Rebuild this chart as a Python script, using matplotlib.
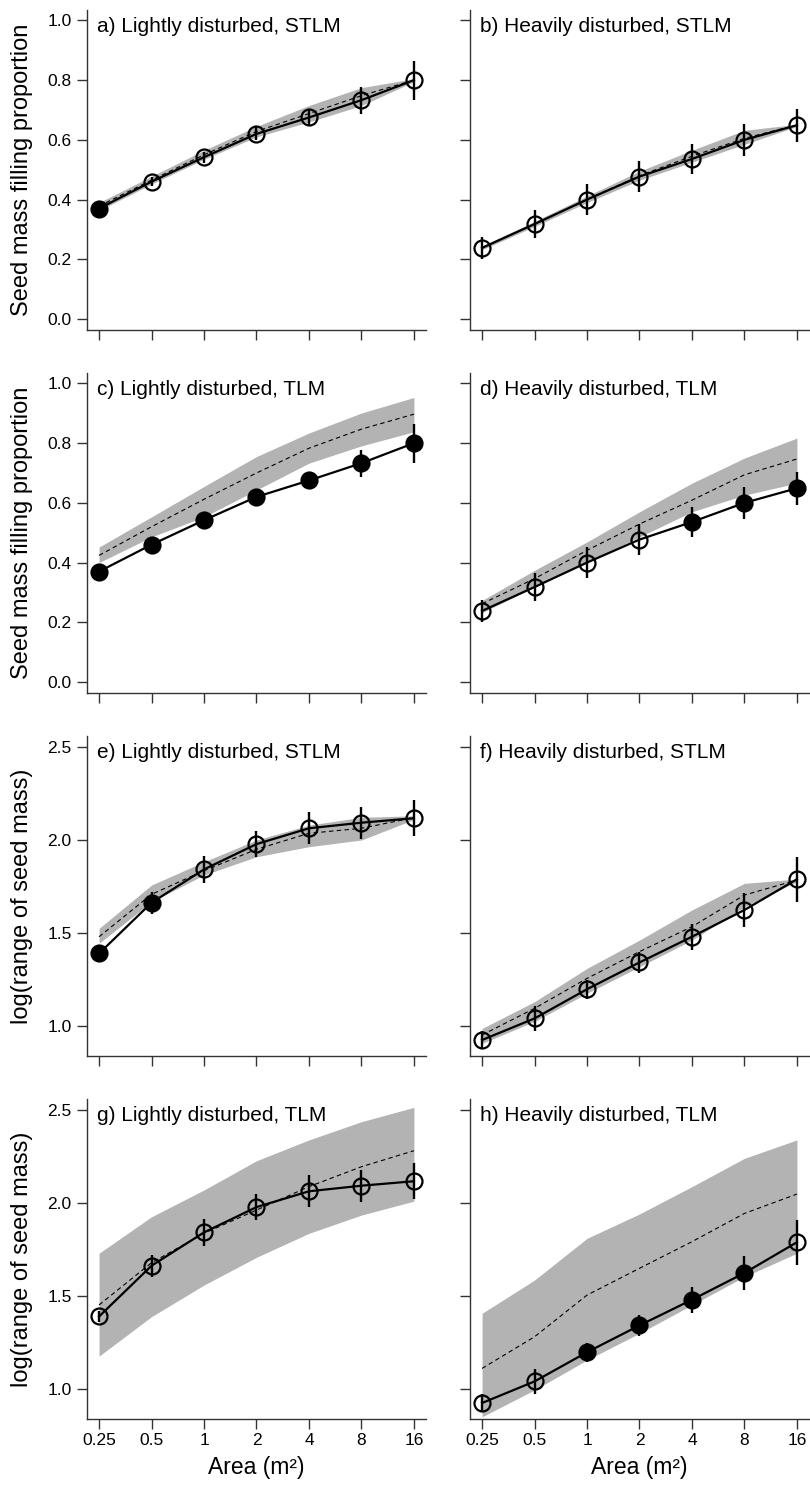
import matplotlib

matplotlib.use("Agg")
import matplotlib.pyplot as plt
from matplotlib.ticker import FixedLocator, NullFormatter, FixedFormatter

AREA = [0.25, 0.5, 1, 2, 4, 8, 16]
AREA_LABELS = ["0.25", "0.5", "1", "2", "4", "8", "16"]

# observed means and error bars
fill_light = [0.370, 0.460, 0.542, 0.620, 0.675, 0.733, 0.800]
fill_light_err = [0.010, 0.015, 0.018, 0.022, 0.030, 0.045, 0.065]
fill_heavy = [0.238, 0.318, 0.400, 0.477, 0.536, 0.600, 0.649]
fill_heavy_err = [0.036, 0.046, 0.052, 0.053, 0.051, 0.054, 0.055]
range_light = [1.390, 1.663, 1.842, 1.978, 2.063, 2.093, 2.117]
range_light_err = [0.030, 0.060, 0.072, 0.072, 0.085, 0.087, 0.098]
range_heavy = [0.925, 1.041, 1.198, 1.342, 1.480, 1.624, 1.789]
range_heavy_err = [0.050, 0.066, 0.052, 0.058, 0.070, 0.093, 0.120]

# null model envelopes (lower, upper) and mean
null_a_lo = [0.363, 0.452, 0.535, 0.610, 0.660, 0.715, 0.795]
null_a_hi = [0.390, 0.478, 0.565, 0.645, 0.715, 0.775, 0.805]
null_a_mid = [0.378, 0.465, 0.550, 0.628, 0.688, 0.748, 0.800]

null_b_lo = [0.232, 0.310, 0.390, 0.465, 0.525, 0.585, 0.645]
null_b_hi = [0.245, 0.327, 0.412, 0.495, 0.565, 0.632, 0.652]
null_b_mid = [0.238, 0.318, 0.400, 0.480, 0.545, 0.605, 0.650]

null_c_lo = [0.400, 0.486, 0.553, 0.643, 0.733, 0.791, 0.838]
null_c_hi = [0.452, 0.553, 0.655, 0.755, 0.834, 0.901, 0.953]
null_c_mid = [0.424, 0.520, 0.612, 0.700, 0.783, 0.847, 0.897]

null_d_lo = [0.232, 0.318, 0.400, 0.486, 0.570, 0.626, 0.666]
null_d_hi = [0.273, 0.374, 0.469, 0.570, 0.666, 0.750, 0.817]
null_d_mid = [0.262, 0.346, 0.441, 0.529, 0.609, 0.694, 0.747]

null_e_lo = [1.445, 1.668, 1.812, 1.910, 1.964, 2.000, 2.110]
null_e_hi = [1.525, 1.758, 1.883, 2.000, 2.080, 2.122, 2.130]
null_e_mid = [1.480, 1.708, 1.835, 1.950, 2.036, 2.063, 2.120]

null_f_lo = [0.907, 1.025, 1.176, 1.319, 1.462, 1.641, 1.776]
null_f_hi = [0.987, 1.131, 1.310, 1.462, 1.624, 1.767, 1.790]
null_f_mid = [0.952, 1.095, 1.256, 1.400, 1.534, 1.704, 1.785]

null_g_lo = [1.177, 1.389, 1.559, 1.708, 1.837, 1.935, 2.010]
null_g_hi = [1.730, 1.926, 2.070, 2.227, 2.339, 2.437, 2.514]
null_g_mid = [1.452, 1.679, 1.837, 1.962, 2.088, 2.195, 2.281]

null_h_lo = [0.851, 0.995, 1.156, 1.300, 1.452, 1.604, 1.730]
null_h_hi = [1.407, 1.586, 1.810, 1.941, 2.088, 2.240, 2.339]
null_h_mid = [1.111, 1.281, 1.505, 1.649, 1.792, 1.944, 2.048]

# 1 = filled (significant), 0 = open
sig_a = [1, 0, 0, 0, 0, 0, 0]
sig_b = [0, 0, 0, 0, 0, 0, 0]
sig_c = [1, 1, 1, 1, 1, 1, 1]
sig_d = [0, 0, 0, 0, 1, 1, 1]
sig_e = [1, 1, 0, 0, 0, 0, 0]
sig_f = [0, 0, 0, 0, 0, 0, 0]
sig_g = [0, 0, 0, 0, 0, 0, 0]
sig_h = [0, 0, 1, 1, 1, 1, 0]

TITLES = [
    "a) Lightly disturbed, STLM", "b) Heavily disturbed, STLM",
    "c) Lightly disturbed, TLM", "d) Heavily disturbed, TLM",
    "e) Lightly disturbed, STLM", "f) Heavily disturbed, STLM",
    "g) Lightly disturbed, TLM", "h) Heavily disturbed, TLM",
]

plt.rcParams.update({
    "font.family": ["Liberation Sans", "DejaVu Sans"],
    "axes.linewidth": 1.0,
    "axes.edgecolor": "#333333",
    "xtick.color": "#333333",
    "ytick.color": "#333333",
    "xtick.labelcolor": "black",
    "ytick.labelcolor": "black",
    "xtick.major.size": 7.5,
    "ytick.major.size": 7.5,
    "xtick.major.width": 1.0,
    "ytick.major.width": 1.0,
    "xtick.major.pad": 2.5,
    "ytick.major.pad": 3.5,
    "xtick.labelsize": 12.5,
    "ytick.labelsize": 12.5,
})

BAND = "#b3b3b3"

panels = [
    (fill_light, fill_light_err, null_a_lo, null_a_hi, null_a_mid, sig_a),
    (fill_heavy, fill_heavy_err, null_b_lo, null_b_hi, null_b_mid, sig_b),
    (fill_light, fill_light_err, null_c_lo, null_c_hi, null_c_mid, sig_c),
    (fill_heavy, fill_heavy_err, null_d_lo, null_d_hi, null_d_mid, sig_d),
    (range_light, range_light_err, null_e_lo, null_e_hi, null_e_mid, sig_e),
    (range_heavy, range_heavy_err, null_f_lo, null_f_hi, null_f_mid, sig_f),
    (range_light, range_light_err, null_g_lo, null_g_hi, null_g_mid, sig_g),
    (range_heavy, range_heavy_err, null_h_lo, null_h_hi, null_h_mid, sig_h),
]

W, H = 810, 1488
fig = plt.figure(figsize=(W / 100, H / 100), dpi=100)

col_left = [87, 470]
col_width = 339
row_top = [10, 373, 736, 1099]
row_height = 320

for idx, (obs, err, lo, hi, mid, sig) in enumerate(panels):
    row, col = divmod(idx, 2)
    rect = [col_left[col] / W, 1 - (row_top[row] + row_height) / H,
            col_width / W, row_height / H]
    ax = fig.add_axes(rect)

    ax.fill_between(AREA, lo, hi, color=BAND, linewidth=0, zorder=1)
    ax.plot(AREA, mid, color="black", linewidth=0.8, linestyle=(0, (4, 3)), zorder=2)
    ax.errorbar(AREA, obs, yerr=err, fmt="none", ecolor="black",
                elinewidth=1.7, capsize=0, zorder=3)
    ax.plot(AREA, obs, color="black", linewidth=1.6, zorder=3)
    for x, y, s in zip(AREA, obs, sig):
        ax.plot(x, y, marker="o", markersize=11.5, markeredgewidth=1.6,
                markeredgecolor="black",
                markerfacecolor="black" if s else "none", zorder=4)

    ax.set_xscale("log", base=2)
    ax.set_xlim(0.25 * 2 ** -0.23, 16 * 2 ** 0.23)
    ax.xaxis.set_major_locator(FixedLocator(AREA))
    ax.xaxis.set_minor_locator(FixedLocator([]))
    if row == 3:
        ax.xaxis.set_major_formatter(FixedFormatter(AREA_LABELS))
        ax.set_xlabel("Area (m²)", fontsize=16.5, labelpad=6)
    else:
        ax.xaxis.set_major_formatter(NullFormatter())

    if row < 2:
        ax.set_ylim(-0.037, 1.035)
        ax.set_yticks([0.0, 0.2, 0.4, 0.6, 0.8, 1.0])
        ax.set_yticklabels(["0.0", "0.2", "0.4", "0.6", "0.8", "1.0"])
        ylabel = "Seed mass filling proportion"
    else:
        ax.set_ylim(0.839, 2.559)
        ax.set_yticks([1.0, 1.5, 2.0, 2.5])
        ax.set_yticklabels(["1.0", "1.5", "2.0", "2.5"])
        ylabel = "log(range of seed mass)"

    if col == 0:
        ax.set_ylabel(ylabel, fontsize=17)
        ax.yaxis.set_label_coords(-0.16, 0.5)
    else:
        ax.yaxis.set_major_formatter(NullFormatter())

    ax.spines["top"].set_visible(False)
    ax.spines["right"].set_visible(False)
    ax.tick_params(direction="out")
    ax.annotate(TITLES[idx], xy=(0, 1), xycoords="axes fraction",
                xytext=(7, -5), textcoords="offset points",
                ha="left", va="top", fontsize=15)

fig.savefig("out.png", dpi=100)
